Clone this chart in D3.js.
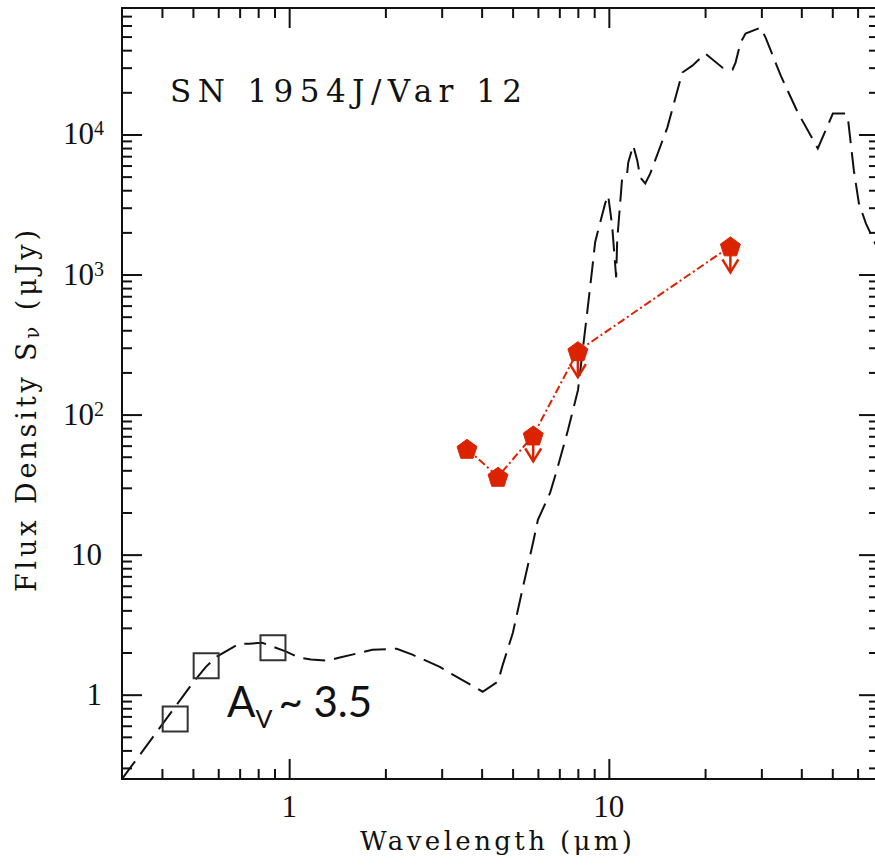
<!DOCTYPE html>
<html>
<head>
<meta charset="utf-8">
<script src="https://cdn.jsdelivr.net/npm/d3@7"></script>
<style>
  html, body { margin: 0; padding: 0; background: #fff; }
  svg { display: block; overflow: hidden; }
</style>
</head>
<body>
<div id="chart"></div>
<script>
// ---- data ----
const modelWl = [0.30, 0.503, 0.549, 0.594, 0.697, 0.749, 0.823, 0.979, 1.075, 1.17, 1.31, 1.44, 1.82, 2.17, 2.43, 2.96, 3.25, 4.03, 4.50, 4.66, 5.01, 5.39, 5.79, 6.0, 6.55, 6.88, 7.45, 8.01, 8.55, 8.86, 9.06, 9.26, 9.74, 9.95, 10.24, 10.54, 10.62, 11.01, 11.41, 11.50, 11.92, 12.27, 12.54, 13.0, 13.48, 15.24, 16.98, 18.25, 20.05, 22.68, 24.38, 24.91, 25.82, 26.77, 29.83, 30.93, 34.47, 38.98, 45.05, 50.2, 55.13, 55.93, 58.4, 60.57, 63.7, 68.5, 71];
const modelFlux = [0.25, 1.24, 1.58, 1.87, 2.31, 2.31, 2.35, 2.03, 1.84, 1.78, 1.75, 1.84, 2.09, 2.13, 1.93, 1.58, 1.39, 1.05, 1.24, 1.64, 2.77, 5.9, 12.1, 17.7, 27.6, 40.2, 77.5, 150, 529, 1070, 1700, 2070, 3220, 3670, 2240, 955, 1750, 4940, 5270, 6320, 8350, 6530, 4940, 4470, 5270, 11200, 27700, 31000, 37800, 30000, 29100, 32600, 45300, 52500, 57900, 49200, 26400, 14400, 7950, 14100, 14100, 13200, 5540, 3220, 2320, 1620, 1450];

const optWl = [0.44, 0.55, 0.89];
const optFlux = [0.67, 1.61, 2.16];

const irWl = [3.6, 4.5, 5.8, 8.0, 24];
const irFlux = [57, 36, 71, 284, 1590];
const irUpperLimit = [false, false, true, true, true];

const xMajorTicks = [1, 10];
const xMinorTicks = [0.4, 0.5, 0.6, 0.7, 0.8, 0.9, 2, 3, 4, 5, 6, 7, 8, 9, 20, 30, 40, 50, 60];
const yMajorTicks = [1, 10, 100, 1000, 10000];
const yMinorTicks = [0.3, 0.4, 0.5, 0.6, 0.7, 0.8, 0.9, 2, 3, 4, 5, 6, 7, 8, 9, 20, 30, 40, 50, 60, 70, 80, 90, 200, 300, 400, 500, 600, 700, 800, 900, 2000, 3000, 4000, 5000, 6000, 7000, 8000, 9000, 20000, 30000, 40000, 50000, 60000, 70000];
const yTickLabels = [{v: 1, base: "1", exp: ""}, {v: 10, base: "10", exp: ""}, {v: 100, base: "10", exp: "2"}, {v: 1000, base: "10", exp: "3"}, {v: 10000, base: "10", exp: "4"}];
const xTickLabels = ["1", "10"];

const titleText = "SN 1954J/Var 12";
const xLabelText = "Wavelength (\u03bcm)";

// ---- layout ----
const W = 875, H = 865;
const L = 122, R = 879, T = 8, B = 779;
const red = "#dc2300";
const ink = "#111";
const serif = "'Liberation Serif', 'Times New Roman', serif";
const serif2 = "'DejaVu Serif', serif";

const svg = d3.select("#chart").append("svg").attr("width", W).attr("height", H);

const x = d3.scaleLog().domain([0.3, 70]).range([L, R]);
const y = d3.scaleLog().domain([0.25, 80000]).range([B, T]);

svg.append("clipPath").attr("id", "plotclip")
  .append("rect").attr("x", L).attr("y", T).attr("width", R - L).attr("height", B - T);

// ---- axes ticks ----
function tickAxis(axisGen, tx, ty, vals, size) {
  const g = svg.append("g").attr("transform", `translate(${tx},${ty})`)
    .call(axisGen.tickValues(vals).tickSize(-size).tickFormat(""));
  g.select(".domain").remove();
  g.selectAll(".tick line").attr("stroke", ink).attr("stroke-width", 2);
  return g;
}
tickAxis(d3.axisBottom(x), 0, B, xMajorTicks, 20);
tickAxis(d3.axisBottom(x), 0, B, xMinorTicks, 10);
tickAxis(d3.axisTop(x), 0, T, xMajorTicks, 20);
tickAxis(d3.axisTop(x), 0, T, xMinorTicks, 10);
tickAxis(d3.axisLeft(y), L, 0, yMajorTicks, 20);
tickAxis(d3.axisLeft(y), L, 0, yMinorTicks, 10);
tickAxis(d3.axisRight(y), R, 0, yMajorTicks, 20);
tickAxis(d3.axisRight(y), R, 0, yMinorTicks, 10);

svg.append("rect").attr("x", L).attr("y", T).attr("width", R - L).attr("height", B - T)
  .attr("fill", "none").attr("stroke", ink).attr("stroke-width", 2);

// ---- tick labels ----
yTickLabels.forEach(d => {
  const t = svg.append("text")
    .attr("x", d.exp ? 104 : 102).attr("y", y(d.v) + 10)
    .attr("text-anchor", "end")
    .attr("font-family", serif).attr("font-size", 31).attr("fill", ink);
  t.append("tspan").text(d.base);
  if (d.exp) t.append("tspan").attr("font-size", 20).attr("dy", -9).text(d.exp);
});
xTickLabels.forEach((s, i) => {
  svg.append("text").attr("x", x(xMajorTicks[i])).attr("y", 817)
    .attr("text-anchor", "middle")
    .attr("font-family", serif).attr("font-size", 31).attr("fill", ink).text(s);
});

function fitWidth(sel, target) {
  const n = sel.text().length;
  const w = sel.node().getComputedTextLength();
  if (n > 1) sel.attr("letter-spacing", (target - w) / (n - 1));
}

// ---- axis labels & title ----
const xl = svg.append("text").attr("x", 360).attr("y", 850)
  .attr("font-family", serif2).attr("font-size", 26).attr("fill", ink).text(xLabelText);
fitWidth(xl, 272);

const yl = svg.append("text").attr("transform", "translate(36,592) rotate(-90)")
  .attr("font-family", serif2).attr("font-size", 27).attr("fill", ink);
yl.append("tspan").text("Flux Density S");
yl.append("tspan").attr("font-size", 20).attr("dy", 3).text("\u03bd");
yl.append("tspan").attr("dy", -3).text(" (\u03bcJy)");
fitWidth(yl, 362);

const tt = svg.append("text").attr("x", 170).attr("y", 102)
  .attr("font-family", serif2).attr("font-size", 31).attr("fill", ink).text(titleText);
fitWidth(tt, 352);

// ---- model curve ----
const modelData = modelWl.map((w, i) => ({wl: w, f: modelFlux[i]}));
const line = d3.line().x(d => x(d.wl)).y(d => y(d.f));
svg.append("path").datum(modelData)
  .attr("clip-path", "url(#plotclip)")
  .attr("d", line)
  .attr("fill", "none").attr("stroke", ink).attr("stroke-width", 2)
  .attr("stroke-dasharray", "22,9");

// ---- optical squares ----
const optData = optWl.map((w, i) => ({wl: w, f: optFlux[i]}));
svg.selectAll(".sq").data(optData).enter().append("path")
  .attr("transform", d => `translate(${x(d.wl)},${y(d.f)})`)
  .attr("d", d3.symbol().type(d3.symbolSquare).size(625))
  .attr("fill", "none").attr("stroke", "#333").attr("stroke-width", 2);

// ---- IR points ----
const irData = irWl.map((w, i) => ({wl: w, f: irFlux[i], ul: irUpperLimit[i]}));
svg.append("path").datum(irData)
  .attr("d", line)
  .attr("fill", "none").attr("stroke", red).attr("stroke-width", 2)
  .attr("stroke-dasharray", "8,3,2,3");

const pentagon = {
  draw(ctx, size) {
    const r = Math.sqrt(size / 2.3776);
    for (let k = 0; k < 5; k++) {
      const a = -Math.PI / 2 + k * 2 * Math.PI / 5;
      const px = r * Math.cos(a), py = r * Math.sin(a) + r * 0.1;
      if (k === 0) ctx.moveTo(px, py); else ctx.lineTo(px, py);
    }
    ctx.closePath();
  }
};

const ulG = svg.selectAll(".ul").data(irData.filter(d => d.ul)).enter().append("g")
  .attr("transform", d => `translate(${x(d.wl)},${y(d.f)})`)
  .attr("fill", "none").attr("stroke", red).attr("stroke-width", 2.5);
ulG.append("line").attr("x1", 0).attr("y1", 0).attr("x2", 0).attr("y2", 26);
ulG.append("polyline").attr("points", "-8,13 0,26 8,13");

svg.selectAll(".pt").data(irData).enter().append("path")
  .attr("transform", d => `translate(${x(d.wl)},${y(d.f)})`)
  .attr("d", d3.symbol().type(pentagon).size(2.3776 * 110))
  .attr("fill", red).attr("stroke", red).attr("stroke-width", 1);

// ---- A_V annotation ----
const sans = "Lato, 'Open Sans', sans-serif";
const av = svg.append("text").attr("x", 227).attr("y", 717)
  .attr("font-family", sans).attr("font-size", 42).attr("fill", ink);
av.append("tspan").text("A");
av.append("tspan").attr("font-size", 25).attr("dy", 11).text("V");
av.append("tspan").attr("dy", -11).attr("dx", 6).text("~ 3.5");
</script>
</body>
</html>
